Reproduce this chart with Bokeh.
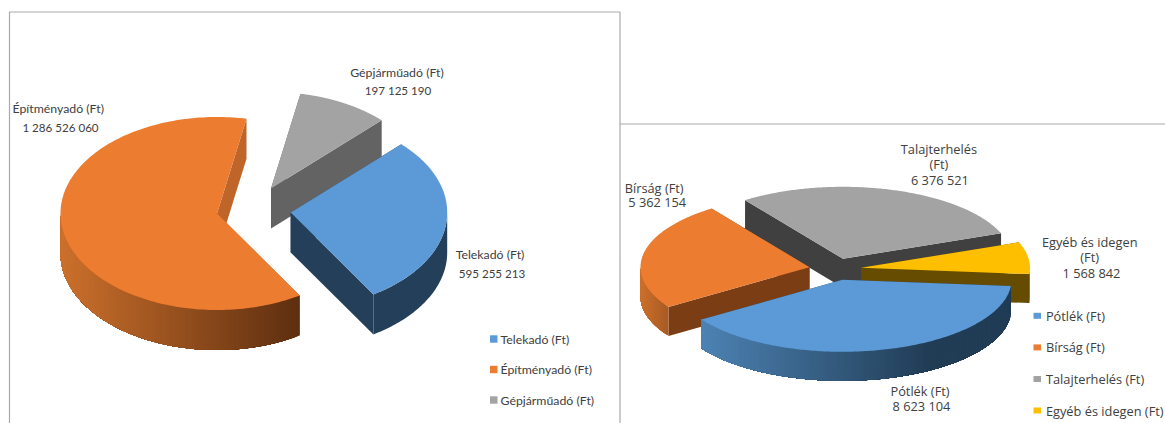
import numpy as np
from bokeh.plotting import figure
from bokeh.core.properties import value
from bokeh.embed import file_html
from bokeh.resources import INLINE

# ---- data ----
left_names = ["Telekadó (Ft)", "Építményadó  (Ft)", "Gépjárműadó (Ft)"]
left_values = [595255213, 1286526060, 197125190]
right_names = ["Pótlék (Ft)", "Bírság  (Ft)", "Talajterhelés (Ft)", "Egyéb és idegen (Ft)"]
right_values = [8623104, 5362154, 6376521, 1568842]


def fmt(v):
    return f"{v:,}".replace(",", " ")


def hex2rgb(h):
    return np.array([int(h[i:i + 2], 16) for i in (1, 3, 5)], dtype=float)


def mix(c0, c1, t):
    t = min(1.0, max(0.0, t))
    r = hex2rgb(c0) * (1 - t) + hex2rgb(c1) * t
    return "#%02x%02x%02x" % tuple(int(round(a)) for a in r)


W, H = 1165, 423
p = figure(width=W, height=H, x_range=(0, W), y_range=(H, 0),
           output_backend="svg", toolbar_location=None, min_border=0,
           background_fill_color="white", border_fill_color="white",
           outline_line_color=None)
p.axis.visible = False
p.grid.visible = False

BORDER = "#a9a9a9"
p.line([9, 9, 619.5, 619.5], [423, 11.5, 11.5, 423], line_color=BORDER, line_width=1.2)
p.line([619.5, 1165], [123.5, 123.5], line_color=BORDER, line_width=1.2)


def slice3d(cx, cy, rx, ry, d, a0, a1, top, cut, wall0, wall1, gx0, gx1):
    """a0..a1: clockwise degrees from 12 o'clock; draws cut walls, outer wall and top."""
    th = np.radians(np.linspace(a0, a1, 181))
    ex = cx + rx * np.sin(th)
    ey = cy - ry * np.cos(th)
    # radial cut walls
    for a in (a0, a1):
        t = np.radians(a)
        tx, ty = cx + rx * np.sin(t), cy - ry * np.cos(t)
        p.patch([cx, tx, tx, cx], [cy, ty, ty + d, cy + d],
                fill_color=cut, line_color=None)
    # outer wall: only its front half is seen; overlapping strips make the shading
    for k in (0, 360):
        s, e = max(a0, 90 + k), min(a1, 270 + k)
        if e <= s:
            continue
        n = 1 if wall0 == wall1 else int(max(2, (e - s) / 0.8))
        edges = np.linspace(s, e, n + 1)
        for i in range(n):
            # painted from angle i up to the far end, so no seams remain
            tt = np.radians(np.linspace(edges[i], e, max(3, int(e - edges[i]) + 2)))
            sx = cx + rx * np.sin(tt)
            sy = cy - ry * np.cos(tt)
            xm = cx + rx * np.sin(np.radians((edges[i] + edges[i + 1]) / 2))
            col = mix(wall0, wall1, (xm - gx0) / (gx1 - gx0))
            p.patch(list(sx) + list(sx[::-1]), list(sy) + list(sy[::-1] + d),
                    fill_color=col, line_color=None)
    # top face
    p.patch([cx] + list(ex), [cy] + list(ey), fill_color=top, line_color=None)


BLUE, ORANGE, GRAY, GOLD = "#5b9ad6", "#eb7c30", "#a3a3a3", "#fdbf00"

# ---- left pie ----
tot = sum(left_values)
start = 45.0
ang = [start]
for v in left_values:
    ang.append(ang[-1] + 360 * v / tot)
RX, RY, D = 156.5, 96.5, 40
slice3d(270.5, 188, RX, RY, D, ang[2], ang[3], GRAY, "#636363", "#636363", "#636363", 0, 1)
slice3d(290.2, 212, RX, RY, D, ang[0], ang[1], BLUE, "#233f59", "#233f59", "#233f59", 0, 1)
slice3d(216.5, 213, RX, RY, D, ang[1], ang[2], ORANGE, "#c0652a", "#5e2f10", "#cc702c", 298, 60)

# ---- right pie ----
tot = sum(right_values)
start = 95.0
ang = [start]
for v in right_values:
    ang.append(ang[-1] + 360 * v / tot)
RX, RY, D = 169, 72, 29
slice3d(842.5, 258.3, RX, RY, D, ang[2], ang[3], GRAY, "#404040", "#404040", "#404040", 0, 1)
slice3d(860.5, 267.3, RX, RY, D, ang[3], ang[4], GOLD, "#654c00", "#654c00", "#654c00", 0, 1)
slice3d(809, 266.7, RX, RY, D, ang[1], ang[2], ORANGE, "#7a3d14", "#a85a22", "#cc702c", 668, 640)
slice3d(842, 279.3, RX, RY, D, ang[0], ang[1], BLUE, "#223f59", "#213c55", "#4d83b4", 930, 700)


# ---- texts ----
def label(x, y, s, font, size, align="center"):
    p.text([x], [y], text=[s], text_font=value(font), text_font_size=size,
           text_align=align, text_baseline="middle", text_color="#404040")


LF, LS, LN = "Lato", "12.3px", "11.6px"
label(396.5, 71.7, left_names[2], LF, LS)
label(397.5, 90.3, fmt(left_values[2]), LF, LN)
label(59.3, 108, left_names[1], LF, LS)
label(60, 127.3, fmt(left_values[1]), LF, LN)
label(489.5, 254.3, left_names[0], LF, LS)
label(491.5, 273.3, fmt(left_values[0]), LF, LN)

RF, RS = "Open Sans", "12.8px"
a, b = right_names[2].rsplit(" ", 1)
label(938.4, 148.3, a, RF, RS)
label(938.4, 163.7, b, RF, RS)
label(939.4, 179, fmt(right_values[2]), RF, RS)
label(655.3, 187.3, right_names[1], RF, RS)
label(656.7, 201.7, fmt(right_values[1]), RF, RS)
a, b = right_names[3].rsplit(" ", 1)
label(1089.2, 241.7, a, RF, RS)
label(1089.2, 256.7, b, RF, RS)
label(1091, 272.3, fmt(right_values[3]), RF, RS)
label(919.5, 390, right_names[0], RF, RS)
label(921, 405.7, fmt(right_values[0]), RF, RS)

# ---- legends ----
for name, col, y in zip(left_names, [BLUE, ORANGE, GRAY], [338.5, 369, 399.5]):
    p.quad(left=[489.5], right=[497], top=[y - 3.7], bottom=[y + 3.7], fill_color=col, line_color=None)
    label(500, y, name, LF, LS, "left")
for name, col, y in zip(right_names, [BLUE, ORANGE, GRAY, GOLD], [315.3, 346.9, 378.5, 410]):
    p.quad(left=[1033], right=[1040.5], top=[y - 3], bottom=[y + 3], fill_color=col, line_color=None)
    label(1045.4, y, name, RF, RS, "left")

open("out.html", "w").write(file_html(p, INLINE))
